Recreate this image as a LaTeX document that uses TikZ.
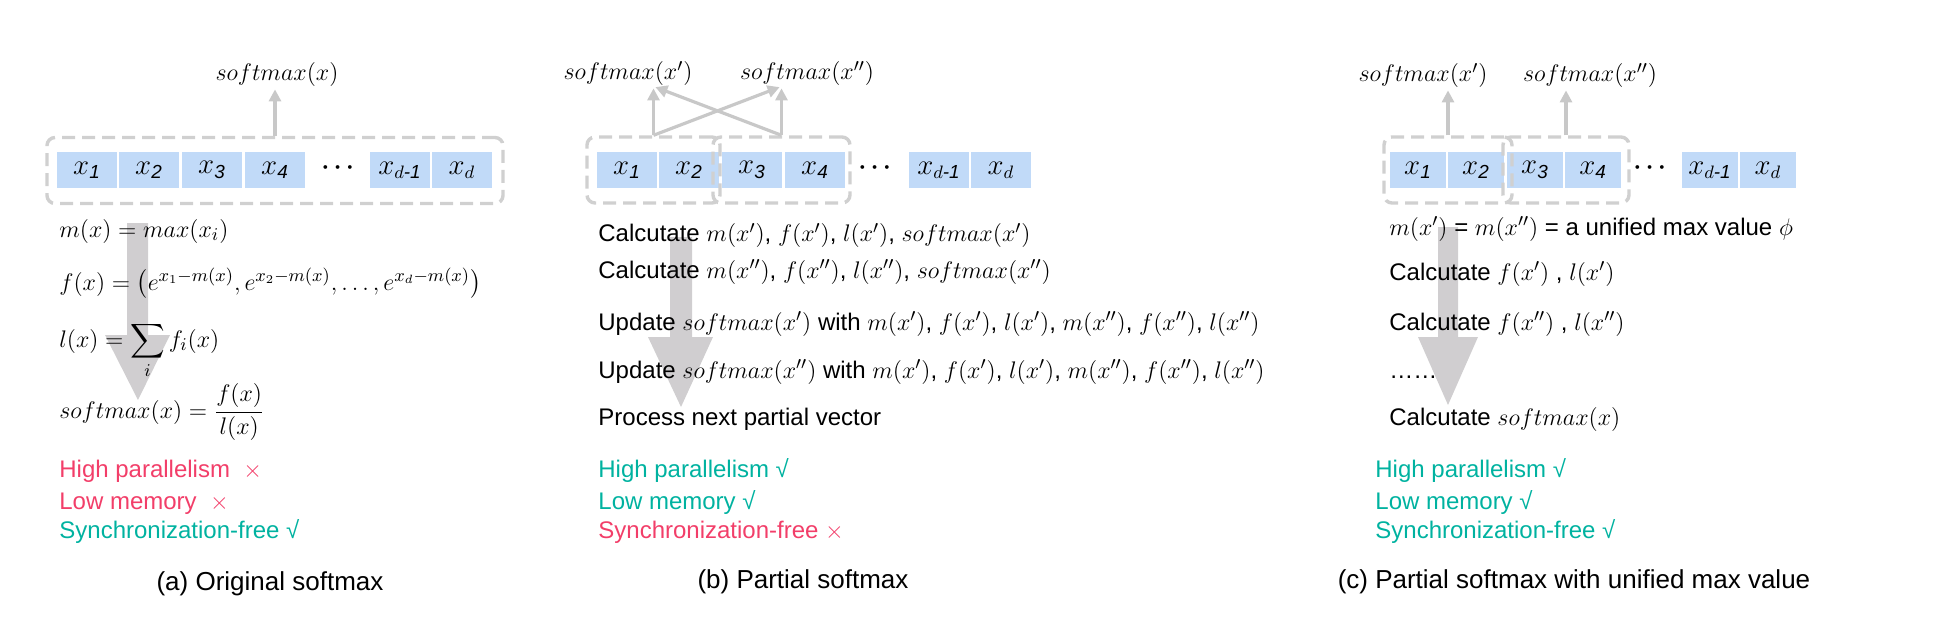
\documentclass[tikz,border=0pt]{standalone}
\usepackage{amsmath}
\usepackage{fontspec}
\setmainfont{Liberation Sans}
\usetikzlibrary{arrows.meta,calc}
\definecolor{CellClr}{RGB}{193,218,248}
\definecolor{DashClr}{RGB}{208,208,208}
\definecolor{LinkClr}{RGB}{200,200,200}
\definecolor{FlowClr}{RGB}{208,206,208}
\definecolor{BadClr}{RGB}{242,62,105}
\definecolor{GoodClr}{RGB}{0,178,160}
\newcommand\mth[1]{{\fontsize{13}{14}\selectfont$#1$}}
\newcommand\nope{\mth{\times}}

\begin{document}
\begin{tikzpicture}[x=0.5pt,y=-0.5pt,
  cell/.style={fill=CellClr,minimum width=30pt,minimum height=17.5pt,inner sep=0pt,font=\fontsize{13.5}{14}\selectfont},
  ccell/.style={cell,minimum width=28pt},
  group/.style={draw=DashClr,line width=1.7pt,dash pattern=on 6.5pt off 3.5pt,rounded corners=4pt,inner sep=0pt,minimum height=33pt},
  link/.style={draw=LinkClr,line width=1.6pt,-{Triangle[width=6pt,length=6pt]},shorten >=1pt},
  lbl/.style={anchor=base,inner sep=0pt,font=\fontsize{13}{14}\selectfont},
  txt/.style={anchor=base west,inner sep=0pt,font=\fontsize{12}{14}\selectfont},
  bad/.style={txt,text=BadClr},
  good/.style={txt,text=GoodClr},
  captxt/.style={anchor=base,inner sep=0pt,font=\fontsize{13}{15}\selectfont}]
\useasboundingbox (0,0) rectangle (1960,642);

% flow arrows behind the text
\fill[FlowClr] (127,223) -- (148,223) -- (148,335) -- (170,335) -- (138,400) -- (105,335) -- (127,335) -- cycle;
\fill[FlowClr] (670,237) -- (692,237) -- (692,337) -- (713,337) -- (681,407) -- (648,337) -- (670,337) -- cycle;
\fill[FlowClr] (1438,227) -- (1458,227) -- (1458,337) -- (1478,337) -- (1448,405) -- (1418,337) -- (1438,337) -- cycle;

% (a)
\node[cell] (a1) at (87,170) {$x_{\mathit{1}}$};
\node[cell] (a2) at (149,170) {$x_{\mathit{2}}$};
\node[cell] (a3) at (212,170) {$x_{\mathit{3}}$};
\node[cell] (a4) at (275,170) {$x_{\mathit{4}}$};
\node[lbl,anchor=center] (adots) at (340,168) {$\boldsymbol{\cdots}$};
\node[cell] (a5) at (400,170) {$x_{d\textit{-1}}$};
\node[cell] (a6) at (462,170) {$x_{d}$};
\node[group,minimum width=228pt] (ga) at (275,170.5) {};
\node[lbl] (sa) at (277,81) {$softmax(x)$};
\draw[link] (ga.north) -- (ga.north |- sa.south);

\node[txt] (ma) at (59,237) {\mth{m(x)=max(x_i)}};
\node[txt] (fa) at (59,290) {\mth{f(x)=\bigl(e^{x_1-m(x)},e^{x_2-m(x)},\dots,e^{x_d-m(x)}\bigr)}};
\node[txt] (la) at (59,347) {\mth{\smash[b]{\displaystyle l(x)=\sum_i f_i(x)}}};
\node[txt] (fsa) at (59,418) {\mth{softmax(x)=\dfrac{f(x)}{l(x)}}};
\node[bad] (pa) at (59,477) {High parallelism \ \nope};
\node[bad] (ya) at (59,509) {Low memory \ \nope};
\node[good] (na) at (59,538) {Synchronization-free √};
\node[captxt] (capa) at (270,590) {(a) Original softmax};

% (b)
\node[cell] (b1) at (627,170) {$x_{\mathit{1}}$};
\node[cell] (b2) at (689,170) {$x_{\mathit{2}}$};
\node[cell] (b3) at (752,170) {$x_{\mathit{3}}$};
\node[cell] (b4) at (815,170) {$x_{\mathit{4}}$};
\node[lbl,anchor=center] (bdots) at (877,168) {$\boldsymbol{\cdots}$};
\node[cell] (b5) at (939,170) {$x_{d\textit{-1}}$};
\node[cell] (b6) at (1001,170) {$x_{d}$};
\node[group,minimum width=66.5pt] (gb1) at (653.5,170) {};
\node[group,minimum width=68.5pt] (gb2) at (781.5,170) {};
\node[lbl] (sb1) at (628,80) {$softmax(x')$};
\node[lbl] (sb2) at (807,80) {$softmax(x'')$};
\draw[link] (gb1.north) -- (gb1.north |- sb1.south);
\draw[link] (gb1.north) -- (gb2.north |- sb2.south);
\draw[link] (gb2.north) -- (gb2.north |- sb2.south);
\draw[link] (gb2.north) -- (gb1.north |- sb1.south);

\node[txt] (cb1) at (598,242) {Calcutate \mth{m(x')}, \mth{f(x')}, \mth{l(x')}, \mth{softmax(x')}};
\node[txt] (cb2) at (598,278) {Calcutate \mth{m(x'')}, \mth{f(x'')}, \mth{l(x'')}, \mth{softmax(x'')}};
\node[txt] (ub1) at (598,330) {Update \mth{softmax(x')} with \mth{m(x')}, \mth{f(x')}, \mth{l(x')}, \mth{m(x'')}, \mth{f(x'')}, \mth{l(x'')}};
\node[txt] (ub2) at (598,378) {Update \mth{softmax(x'')} with \mth{m(x')}, \mth{f(x')}, \mth{l(x')}, \mth{m(x'')}, \mth{f(x'')}, \mth{l(x'')}};
\node[txt] (nb) at (598,425) {Process next partial vector};
\node[good] (pb) at (598,477) {High parallelism √};
\node[good] (yb) at (598,509) {Low memory √};
\node[bad] (sfb) at (598,538) {Synchronization-free \nope};
\node[captxt] (capb) at (803,588) {(b) Partial softmax};

% (c)
\node[ccell] (c1) at (1418,170) {$x_{\mathit{1}}$};
\node[ccell] (c2) at (1476,170) {$x_{\mathit{2}}$};
\node[ccell] (c3) at (1535,170) {$x_{\mathit{3}}$};
\node[ccell] (c4) at (1593,170) {$x_{\mathit{4}}$};
\node[lbl,anchor=center] (cdots) at (1652,168) {$\boldsymbol{\cdots}$};
\node[ccell] (c5) at (1710,170) {$x_{d\textit{-1}}$};
\node[ccell] (c6) at (1768,170) {$x_{d}$};
\node[group,minimum width=64pt] (gc1) at (1448,170) {};
\node[group,minimum width=63pt] (gc2) at (1566,170) {};
\node[lbl] (sc1) at (1423,82) {$softmax(x')$};
\node[lbl] (sc2) at (1590,82) {$softmax(x'')$};
\draw[link] (gc1.north) -- (gc1.north |- sc1.south);
\draw[link] (gc2.north) -- (gc2.north |- sc2.south);

\node[txt] (mc) at (1389,235) {\mth{m(x')} = \mth{m(x'')} = a unified max value \mth{\phi}};
\node[txt] (fc1) at (1389,280) {Calcutate \mth{f(x')} , \mth{l(x')}};
\node[txt] (fc2) at (1389,330) {Calcutate \mth{f(x'')} , \mth{l(x'')}};
\node[txt] (ec) at (1389,378) {……};
\node[txt] (sfc) at (1389,425) {Calcutate \mth{softmax(x)}};
\node[good] (pc) at (1375,477) {High parallelism √};
\node[good] (yc) at (1375,509) {Low memory √};
\node[good] (nc) at (1375,538) {Synchronization-free √};
\node[captxt] (capc) at (1574,588) {(c) Partial softmax with unified max value};
\end{tikzpicture}
\end{document}
